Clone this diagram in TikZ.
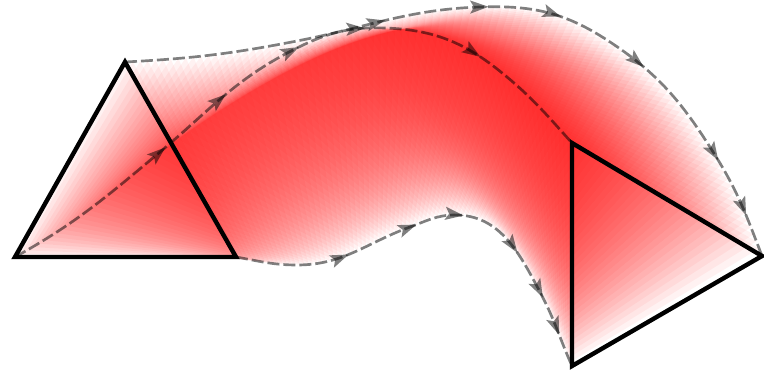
\documentclass[tikz,border=0pt]{standalone}
\usepackage{tikz}
\usetikzlibrary{decorations.markings,arrows.meta,backgrounds}

\tikzset{
    sweep/.style={fill=red, fill opacity=0.05},
    track/.style={black, opacity=0.5, line width=2pt, dash pattern=on 9pt off 3pt},
    sample/.style={postaction={decorate, decoration={markings,
        mark=between positions 0 and 1 step 0.01 with
        {\coordinate (#1-\pgfkeysvalueof{/pgf/decoration/mark info/sequence number});}}}},
    tip/.style={postaction={decorate, decoration={markings,
        mark=at position #1 with {\arrow{Stealth[length=14pt,width=10pt,inset=3pt,line width=0pt]}}}}},
    tri/.style={black, line width=3.3pt}
}

\begin{document}
\begin{tikzpicture}[x=0.75pt, y=0.75pt]
    \useasboundingbox (0,0) rectangle (764,378);
    % corners of the two triangles
    \coordinate (a1) at (125,316);
    \coordinate (b1) at (15,121);
    \coordinate (c1) at (236,121);
    \coordinate (a2) at (762,122);
    \coordinate (b2) at (572,235);
    \coordinate (c2) at (572,12);
    % paths of the three corners
    \draw[track, sample=top, tip/.list={0.345,0.482,0.578,0.705,0.862,0.943}]
        (a1) to[out=3,in=191] (297,337) to[out=11,in=182] (480,371)
        to[out=2,in=147] (607,338) to[out=-33,in=122] (715,223) to[out=-58,in=111] (a2);
    \draw[track, sample=mid, tip/.list={0.278,0.398,0.528,0.631,0.812}]
        (b1) to[out=29,in=220] (160,226) to[out=40,in=207] (293,328)
        to[out=27,in=178] (385,350) to[out=-2,in=140] (507,301) to[out=-40,in=132] (b2);
    \draw[track, sample=bot, tip/.list={0.266,0.438,0.551,0.708,0.827,0.922}]
        (c1) to[out=-10,in=180] (297,113) to[out=0,in=200] (410,151)
        to[out=20,in=180] (455,163) to[out=0,in=118] (540,86) to[out=-62,in=114] (c2);
    % swept area
    \begin{pgfonlayer}{background}
        \foreach \i in {1,...,100}
            \fill[sweep] (top-\i) -- (mid-\i) -- (bot-\i) -- cycle;
    \end{pgfonlayer}
    \draw[tri] (a1) -- (b1) -- (c1) -- cycle;
    \draw[tri] (a2) -- (b2) -- (c2) -- cycle;
\end{tikzpicture}
\end{document}
